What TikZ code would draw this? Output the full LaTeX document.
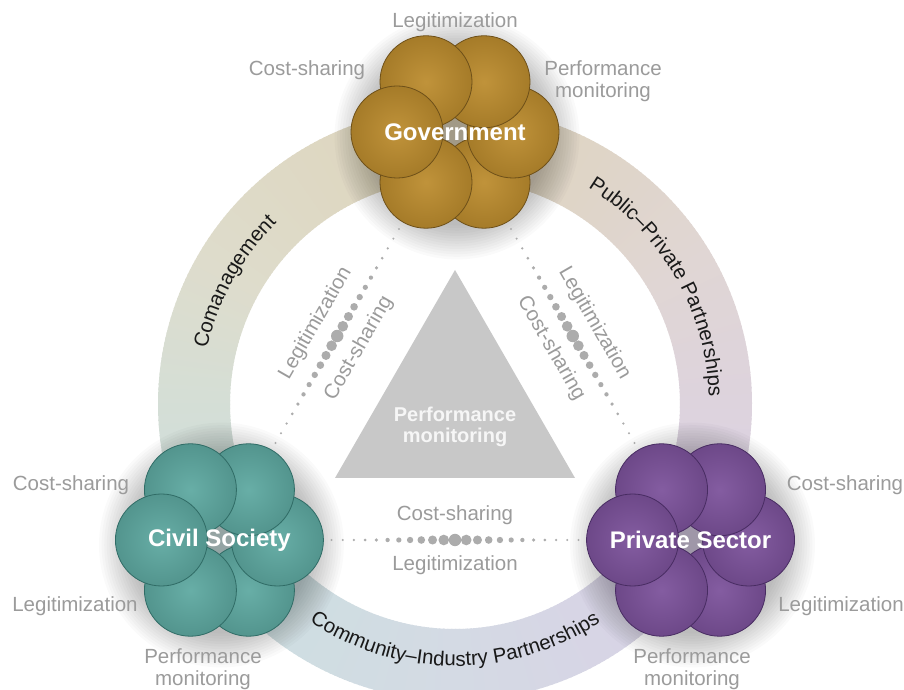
\documentclass[tikz,border=0pt]{standalone}
\usepackage{fontspec}
\setmainfont{Liberation Sans}
\usetikzlibrary{calc,decorations.text}

\definecolor{ringA}{RGB}{222,212,186}
\definecolor{ringB}{RGB}{222,220,204}
\definecolor{ringC}{RGB}{203,224,224}
\definecolor{ringD}{RGB}{212,218,228}
\definecolor{ringE}{RGB}{218,208,230}
\definecolor{ringF}{RGB}{224,214,212}
\definecolor{govfill}{RGB}{188,140,46}
\definecolor{govline}{RGB}{110,80,25}
\definecolor{civfill}{RGB}{94,169,161}
\definecolor{civline}{RGB}{48,108,102}
\definecolor{prvfill}{RGB}{124,82,155}
\definecolor{prvline}{RGB}{72,44,98}
\definecolor{labgray}{RGB}{155,155,155}
\definecolor{dotgray}{RGB}{172,172,172}
\definecolor{trigray}{RGB}{200,200,200}
\definecolor{tritext}{RGB}{246,246,246}
\definecolor{ringtext}{RGB}{25,25,25}

\newcommand\ringfont{\fontsize{20.5}{22}\selectfont}

% six overlapping disks around a centre: #1 centre, #2 fill, #3 outline
\newcommand\petals[3]{%
  \foreach \ang in {300,0,60,120,240,180}{%
    \shadedraw[inner color=#2!94!white, outer color=#2!88!black, draw=#3, line width=0.8pt]
      ($(#1)+(\ang:58)$) circle (46);
  }%
}
% soft shadow under a cluster
\newcommand\clustershadow[1]{%
  \foreach \k in {1,...,14}{%
    \fill[black, opacity=0.018] ($(#1)+(2,-5)$) circle (86+\k*2.6);
  }%
}
% dotted connector whose dots swell towards the middle
\newcommand\dotline[2]{%
  \foreach \i in {0,...,22}{%
    \pgfmathsetmacro\dotT{\i/22}%
    \pgfmathsetmacro\dotU{1-abs(2*\dotT-1)}%
    \pgfmathsetmacro\dotR{1.1+5.1*\dotU*\dotU}%
    \fill[dotgray] ($(#1)!\dotT!(#2)$) circle (\dotR);
  }%
}

\tikzset{
  lab/.style={text=labgray, font=\fontsize{20.5}{22}\selectfont, align=center, inner sep=0pt},
  clustertext/.style={text=white, font=\fontsize{24}{26}\selectfont\bfseries, inner sep=0pt},
  tritxt/.style={text=tritext, font=\fontsize{20}{21}\selectfont\bfseries, align=center, inner sep=0pt},
}

\begin{document}
\begin{tikzpicture}[x=1pt,y=1pt]
\useasboundingbox (0,0) rectangle (904,690);
\clip (0,0) rectangle (904,690);
\fill[white] (0,0) rectangle (904,690);

\coordinate (O) at (455,286);
\coordinate (G) at ($(O)+(90:272)$);
\coordinate (C) at ($(O)+(210:272)$);
\coordinate (P) at ($(O)+(330:272)$);

% ring with a colour that drifts around its circumference
\begin{scope}[shift={(455,286)}]
\foreach \st/\ca/\cb in {90/ringA/ringB,150/ringB/ringC,210/ringC/ringD,270/ringD/ringE,330/ringE/ringF,390/ringF/ringA}{
  \foreach \i in {0,...,59}{
    \pgfmathsetmacro\pp{100-\i*100/60}
    \pgfmathsetmacro\aa{\st+\i}
    \pgfmathsetmacro\ab{\st+\i+1.3}
    \fill[\ca!\pp!\cb] (\aa:225) arc[start angle=\aa, end angle=\ab, radius=225]
      -- (\ab:297) arc[start angle=\ab, end angle=\aa, radius=297] -- cycle;
  }
}
% labels running along the ring
\path[decorate, decoration={text along path, text align=center,
  text={|\ringfont\color{ringtext}|Comanagement}}]
  (180:254) arc[start angle=180, end angle=122, radius=254];
\path[decorate, decoration={text along path, text align=center,
  text={|\ringfont\color{ringtext}|Public–Private Partnerships}}]
  (66:254) arc[start angle=66, end angle=-6, radius=254];
\path[decorate, decoration={text along path, text align=center,
  text={|\ringfont\color{ringtext}|Community–Industry Partnerships}}]
  (228:262) arc[start angle=228, end angle=312, radius=262];
\end{scope}

% central triangle
\fill[trigray] (455,420) -- (335,212) -- (575,212) -- cycle;
\node[tritxt] (perf) at (455,263) {Performance\\monitoring};

% clusters
\clustershadow{G}
\clustershadow{C}
\clustershadow{P}
\petals{G}{govfill}{govline}
\petals{C}{civfill}{civline}
\petals{P}{prvfill}{prvline}
\node[clustertext] (gov) at (G) {Government};
\node[clustertext] (civ) at (C) {Civil Society};
\node[clustertext] (prv) at (P) {Private Sector};

% dotted connectors between the clusters
\dotline{$(gov)!112pt!(civ)$}{$(civ)!112pt!(gov)$}
\dotline{$(gov)!112pt!(prv)$}{$(prv)!112pt!(gov)$}
\dotline{$(civ)!112pt!(prv)$}{$(prv)!112pt!(civ)$}

\coordinate (M1) at ($(gov)!0.5!(civ)$);
\coordinate (M2) at ($(gov)!0.5!(prv)$);
\coordinate (M3) at ($(civ)!0.5!(prv)$);
\node[lab, rotate=60] (gcL) at ($(M1)+(150:25)$) {Legitimization};
\node[lab, rotate=60] (gcC) at ($(M1)+(-30:25)$) {Cost-sharing};
\node[lab, rotate=-60] (gpL) at ($(M2)+(30:25)$) {Legitimization};
\node[lab, rotate=-60] (gpC) at ($(M2)+(210:25)$) {Cost-sharing};
\node[lab] (cpC) at ($(M3)+(0,25)$) {Cost-sharing};
\node[lab] (cpL) at ($(M3)+(0,-25)$) {Legitimization};

% labels around each cluster
\node[lab] (govL) at (455,668) {Legitimization};
\node[lab] (govC) at (307,620) {Cost-sharing};
\node[lab] (govP) at (603,609) {Performance\\monitoring};
\node[lab] (civC) at (71,205) {Cost-sharing};
\node[lab] (civL) at (75,84) {Legitimization};
\node[lab] (civP) at (203,21) {Performance\\monitoring};
\node[lab] (prvC) at (845,205) {Cost-sharing};
\node[lab] (prvL) at (841,84) {Legitimization};
\node[lab] (prvP) at (692,21) {Performance\\monitoring};
\end{tikzpicture}
\end{document}
